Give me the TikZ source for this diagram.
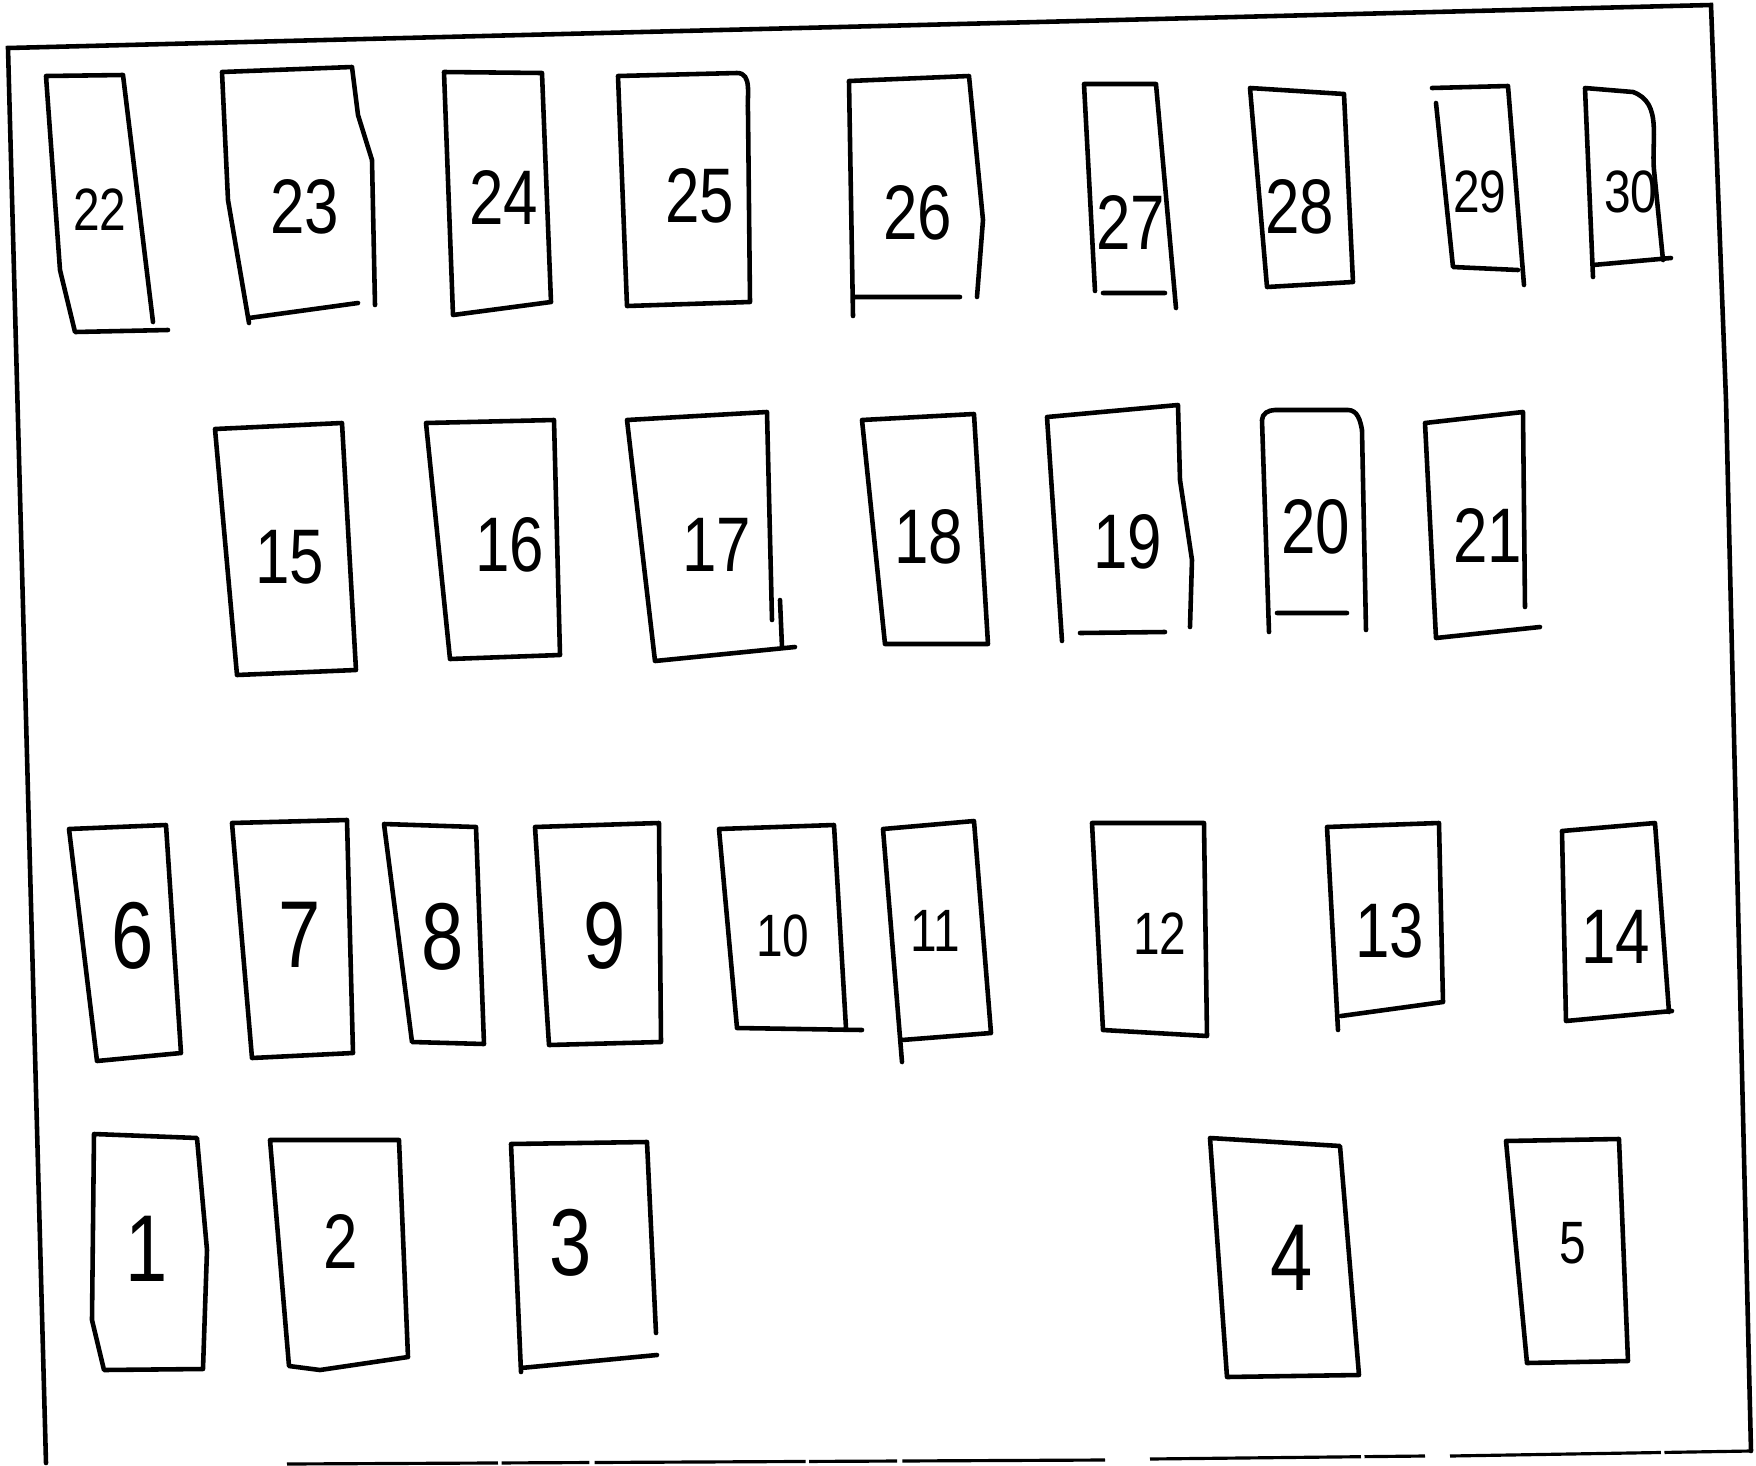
\documentclass[tikz,border=0pt]{standalone}
\usepackage{fontspec}
\setmainfont[FakeStretch=0.8]{Liberation Sans}
\tikzset{
  fuse/.style={line width=1.3pt, line join=round, line cap=round},
  frameline/.style={line width=1.3pt, line cap=round},
  bottomline/.style={line width=0.9pt, dash pattern=on 60pt off 1pt on 25pt off 1.5pt},
  lbl/.style={inner sep=0pt, font=\fontsize{22}{22}\selectfont},
  lblbig/.style={inner sep=0pt, font=\fontsize{27}{27}\selectfont},
  lblsmall/.style={inner sep=0pt, font=\fontsize{17}{17}\selectfont},
}
\newcommand\fusebox[5]{\draw[fuse] #2; \node[#5] (#1) at #3 {#4};}
\begin{document}
\begin{tikzpicture}[x=0.01cm,y=-0.01cm]
\useasboundingbox (0,0) rectangle (1756,1466);
% frame
\coordinate (ftl) at (8,48);
\coordinate (ftr) at (1711,5);
\coordinate (fmr) at (1726,400);
\coordinate (fbr) at (1751,1451);
\coordinate (fbl) at (46,1463);
\coordinate (fb1) at (287,1464);
\coordinate (fb2) at (1105,1460);
\coordinate (fb3) at (1150,1459);
\coordinate (fb4) at (1425,1456);
\coordinate (fb5) at (1450,1456);
\draw[frameline] (fbl) -- (ftl) -- (ftr) -- (fmr) -- (fbr);
\draw[bottomline] (fb1) -- (fb2) (fb3) -- (fb4) (fb5) -- (fbr);
% row 1
\fusebox{f22}{(153,322) -- (123,75) -- (46,76) -- (60,270) -- (75,332) -- (168,330)}{(100,210)}{22}{lblsmall}
\fusebox{f23}{(375,305) -- (372,160) -- (358,115) -- (352,67) -- (222,72) -- (228,200) -- (249,323) (249,318) -- (358,303)}{(305,207)}{23}{lbl}
\fusebox{f24}{(444,72) -- (542,73) -- (551,302) -- (453,315) -- cycle}{(504,197)}{24}{lbl}
\fusebox{f25}{(618,76) -- (737,73) to[out=0,in=95] (748,112) -- (750,302) -- (627,306) -- cycle}{(700,196)}{25}{lbl}
\fusebox{f26}{(977,297) -- (983,220) -- (969,76) -- (849,81) -- (853,316) (853,297) -- (960,297)}{(918,213)}{26}{lbl}
\fusebox{f27}{(1176,308) -- (1156,84) -- (1084,84) -- (1095,291) (1103,293) -- (1165,293)}{(1131,222)}{27}{lbl}
\fusebox{f28}{(1250,88) -- (1344,94) -- (1353,282) -- (1267,287) -- cycle}{(1300,207)}{28}{lbl}
\fusebox{f29}{(1524,285) -- (1508,86) -- (1432,88) (1436,103) -- (1453,267) -- (1518,270)}{(1480,192)}{29}{lblsmall}
\fusebox{f30}{(1663,260) -- (1654,170) to[out=95,in=-20] (1633,92) -- (1585,88) -- (1593,277) (1593,265) -- (1671,258)}{(1631,192)}{30}{lblsmall}
% row 2
\fusebox{f15}{(215,429) -- (342,423) -- (356,670) -- (237,675) -- cycle}{(290,557)}{15}{lbl}
\fusebox{f16}{(426,423) -- (554,420) -- (560,655) -- (450,659) -- cycle}{(510,545)}{16}{lbl}
\fusebox{f17}{(772,620) -- (767,412) -- (627,420) -- (655,661) -- (795,647) (780,600) -- (782,647)}{(717,545)}{17}{lbl}
\fusebox{f18}{(862,420) -- (974,414) -- (988,644) -- (885,644) -- cycle}{(929,537)}{18}{lbl}
\fusebox{f19}{(1190,627) -- (1192,560) -- (1180,480) -- (1178,405) -- (1047,417) -- (1062,641) (1080,633) -- (1165,632)}{(1128,542)}{19}{lbl}
\fusebox{f20}{(1366,630) -- (1362,430) to[out=100,in=0] (1348,410) -- (1275,410) to[out=180,in=90] (1262,420) -- (1269,632) (1277,613) -- (1347,613)}{(1316,527)}{20}{lbl}
\fusebox{f21}{(1525,607) -- (1523,412) -- (1425,423) -- (1436,638) -- (1540,627)}{(1488,535)}{21}{lbl}
% row 3
\fusebox{f6}{(69,829) -- (166,825) -- (181,1053) -- (97,1061) -- cycle}{(133,936)}{6}{lblbig}
\fusebox{f7}{(232,823) -- (347,820) -- (353,1053) -- (252,1058) -- cycle}{(300,935)}{7}{lblbig}
\fusebox{f8}{(384,824) -- (476,827) -- (484,1044) -- (412,1042) -- cycle}{(443,937)}{8}{lblbig}
\fusebox{f9}{(535,827) -- (659,823) -- (661,1042) -- (549,1045) -- cycle}{(605,936)}{9}{lblbig}
\fusebox{f10}{(862,1030) -- (737,1028) -- (719,829) -- (834,825) -- (846,1028)}{(783,936)}{10}{lblsmall}
\fusebox{f11}{(902,1062) -- (883,829) -- (974,821) -- (991,1033) -- (902,1040)}{(935,931)}{11}{lblsmall}
\fusebox{f12}{(1092,823) -- (1204,823) -- (1207,1036) -- (1103,1030) -- cycle}{(1160,934)}{12}{lblsmall}
\fusebox{f13}{(1338,1030) -- (1327,827) -- (1439,823) -- (1443,1002) -- (1341,1016)}{(1390,931)}{13}{lbl}
\fusebox{f14}{(1672,1011) -- (1566,1021) -- (1562,831) -- (1655,823) -- (1669,1012)}{(1616,937)}{14}{lbl}
% row 4
\fusebox{f1}{(94,1134) -- (197,1138) -- (207,1250) -- (203,1369) -- (104,1370) -- (92,1320) -- cycle}{(147,1249)}{1}{lblbig}
\fusebox{f2}{(270,1140) -- (399,1140) -- (408,1357) -- (320,1370) -- (289,1366) -- cycle}{(341,1241)}{2}{lbl}
\fusebox{f3}{(656,1333) -- (647,1142) -- (511,1144) -- (521,1372) (521,1368) -- (657,1355)}{(571,1243)}{3}{lblbig}
\fusebox{f4}{(1210,1138) -- (1340,1146) -- (1359,1375) -- (1227,1377) -- cycle}{(1292,1258)}{4}{lblbig}
\fusebox{f5}{(1506,1141) -- (1619,1139) -- (1628,1361) -- (1527,1363) -- cycle}{(1573,1243)}{5}{lblsmall}
\end{tikzpicture}
\end{document}
